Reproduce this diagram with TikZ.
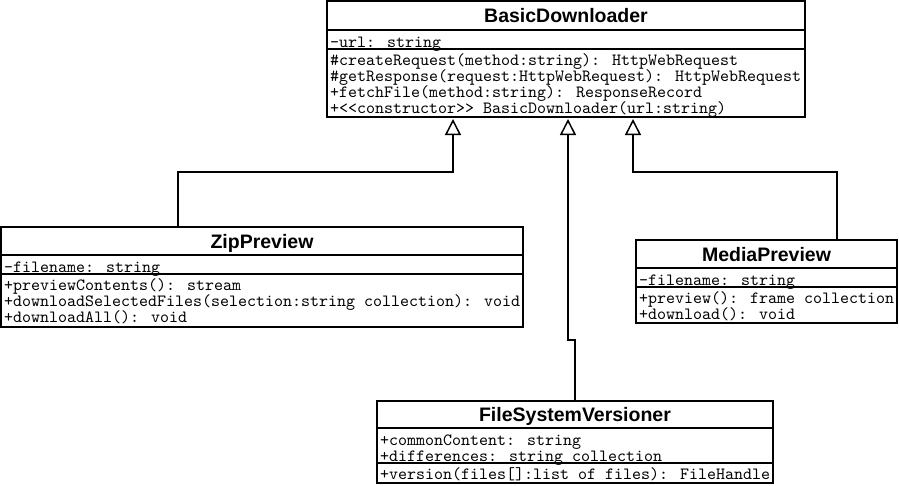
\documentclass[tikz,border=0pt]{standalone}
\usepackage{fontspec}
\usetikzlibrary{calc}
\usetikzlibrary{arrows.meta}
\newfontfamily\titlefont{Liberation Sans}
\newfontfamily\membfont{lmmono10-regular.otf}
\tikzset{
  classbox/.style={draw, line width=2pt, rectangle, inner sep=0pt, outer sep=0pt, anchor=north west},
  classtitle/.style={inner sep=0pt, text height=14pt, text depth=0pt, font=\titlefont\bfseries\fontsize{19.5}{20}\selectfont},
  member/.style={anchor=base west, inner sep=0pt, font=\membfont\fontsize{17.14}{16}\selectfont},
  inherit/.style={line width=2pt, -{Triangle[open, length=16pt, width=16pt, line width=1.5pt]}}
}
% name, x, y, width, height, title height, attribute height, title
\newcommand\umlclass[8]{
  \node[classbox, minimum width=#4pt, minimum height=#5pt] (#1) at (#2, #3) {};
  \draw[line width=2pt] ($(#1.north west)+(0,#6)$) -- ($(#1.north east)+(0,#6)$);
  \draw[line width=2pt] ($(#1.north west)+(0,#6+#7)$) -- ($(#1.north east)+(0,#6+#7)$);
  \node[classtitle] (#1title) at ($(#1.north)+(0,#6/2)$) {#8};
}
% box, name prefix, first baseline, lines
\newcommand\umlmembers[4]{
  \foreach \txt [count=\i] in {#4}
    \node[member] (#2\i) at ($(#1.north west)+(3,#3+16*\i-16)$) {\txt};
}
\begin{document}
\begin{tikzpicture}[x=1pt, y=-1pt]
  \path[fill=white, use as bounding box] (0,0) rectangle (899,485);

  \umlclass{basic}{327}{1}{478}{116}{29}{19}{BasicDownloader}
  \umlmembers{basic}{basicattr}{46.5}{-url: string}
  \umlmembers{basic}{basicop}{64}{\#createRequest(method:string): HttpWebRequest, \#getResponse(request:HttpWebRequest): HttpWebRequest, +fetchFile(method:string): ResponseRecord, +<<constructor>> BasicDownloader(url:string)}

  \umlclass{zip}{1}{227}{522}{100}{28}{19}{ZipPreview}
  \umlmembers{zip}{zipattr}{45.5}{-filename: string}
  \umlmembers{zip}{zipop}{63}{+previewContents(): stream, +downloadSelectedFiles(selection:string collection): void, +downloadAll(): void}

  \umlclass{media}{636}{240}{261}{83}{28}{19}{MediaPreview}
  \umlmembers{media}{mediaattr}{45.5}{-filename: string}
  \umlmembers{media}{mediaop}{63}{+preview(): frame collection, +download(): void}

  \umlclass{fsv}{377}{401}{396}{82}{27}{35}{FileSystemVersioner}
  \umlmembers{fsv}{fsvattr}{44.5}{+commonContent: string, +differences: string collection}
  \umlmembers{fsv}{fsvop}{78}{+version(files[]:list of files): FileHandle}

  % generalisations
  \draw[inherit] ($(zip.north west)+(177,0)$) |- ($(basic.south west)+(126,55)$) -- ($(basic.south west)+(126,2)$);
  \draw[inherit] (fsv.north) |- ($(basic.south)+(2,223)$) -- ($(basic.south)+(2,2)$);
  \draw[inherit] ($(media.north west)+(201,0)$) |- ($(basic.south west)+(306,55)$) -- ($(basic.south west)+(306,2)$);
\end{tikzpicture}
\end{document}
